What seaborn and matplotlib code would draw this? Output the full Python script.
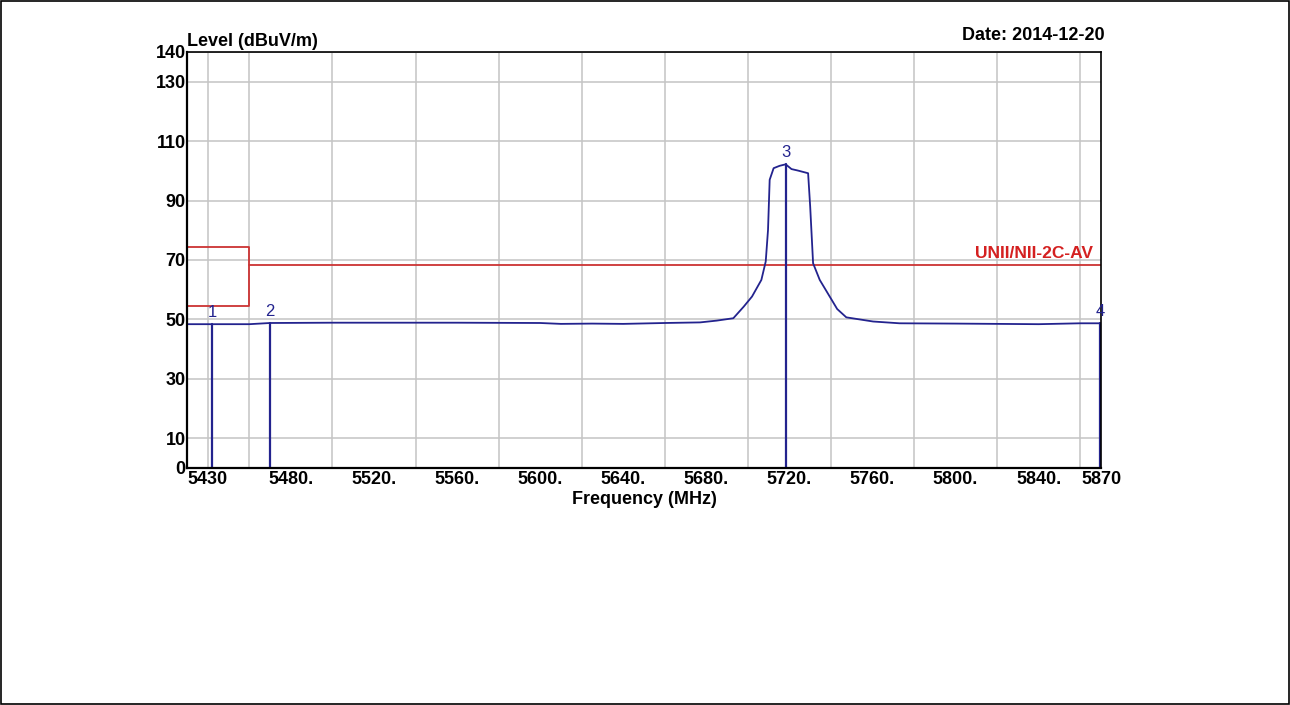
import matplotlib
matplotlib.use("Agg")
import matplotlib.pyplot as plt
import seaborn as sns
import pandas as pd
from matplotlib.patches import Rectangle

# ---- data ----
trace_freq = [5430, 5442, 5460, 5470, 5500, 5560, 5600, 5610, 5625, 5640, 5660, 5677,
              5685, 5693, 5698, 5702, 5706.5, 5708.6, 5709.7, 5710.5, 5712.4, 5715.3,
              5718.2, 5721, 5724.1, 5729, 5730, 5731.4, 5734.6, 5739.4, 5743, 5747.4,
              5760.3, 5773, 5800, 5840, 5860, 5869.5]
trace_level = [48.4, 48.4, 48.4, 48.8, 48.9, 48.9, 48.8, 48.5, 48.6, 48.5, 48.8, 49.0,
               49.6, 50.4, 54.3, 57.7, 63.3, 69.5, 80.1, 97.0, 100.9, 101.7,
               102.2, 100.6, 100.1, 99.2, 88.0, 68.9, 63.3, 57.7, 53.5, 50.7,
               49.3, 48.7, 48.6, 48.4, 48.7, 48.7]

limit_box_freq = [5430, 5460, 5460, 5430]
limit_box_level = [74.4, 74.4, 54.5, 54.5]
limit_line_freq = [5460, 5870]
limit_line_level = [68.3, 68.3]
limit_label = "UNII/NII-2C-AV"

marker_ids = ["1", "2", "3", "4"]
marker_freq = [5442, 5470, 5718.2, 5869.5]
marker_level = [48.4, 48.8, 102.2, 48.7]

xtick_vals = [5430, 5480, 5520, 5560, 5600, 5640, 5680, 5720, 5760, 5800, 5840, 5870]
xtick_labels = ["5430", "5480.", "5520.", "5560.", "5600.", "5640.", "5680.", "5720.",
                "5760.", "5800.", "5840.", "5870"]
ytick_vals = [0, 10, 30, 50, 70, 90, 110, 130, 140]

x_label = "Frequency (MHz)"
y_label = "Level (dBuV/m)"
date_text = "Date: 2014-12-20"

# ---- style ----
sns.set_theme(style="white")
plt.rcParams['font.family'] = ['Liberation Sans', 'DejaVu Sans']
plt.rcParams['text.color'] = 'black'
plt.rcParams['axes.labelcolor'] = 'black'
plt.rcParams['xtick.color'] = 'black'
plt.rcParams['ytick.color'] = 'black'

BLUE = "#23238e"
RED = "#cc3333"
GRID = "#c4c4c4"

fig = plt.figure(figsize=(12.9, 7.05), dpi=100)
ax = fig.add_axes([187 / 1290, 1 - 468 / 705, (1101 - 187) / 1290, (468 - 52) / 705])

# limit lines
sns.lineplot(x=limit_box_freq, y=limit_box_level, sort=False, estimator=None,
             color=RED, lw=1.3, ax=ax)
sns.lineplot(x=limit_line_freq, y=limit_line_level, sort=False, estimator=None,
             color=RED, lw=1.3, ax=ax)

# trace
df = pd.DataFrame({"f": trace_freq, "L": trace_level})
sns.lineplot(data=df, x="f", y="L", sort=False, estimator=None, color=BLUE, lw=1.3, ax=ax)

# markers
for mid, mf, ml in zip(marker_ids, marker_freq, marker_level):
    ax.plot([mf, mf], [0, ml], color=BLUE, lw=1.6)
    ax.text(mf, ml + 1.5, mid, color=BLUE, fontsize=12, ha="center", va="bottom")

ax.text(5866, limit_line_level[0] + 1.2, limit_label, color="#d42020", fontsize=12.5,
        fontweight="bold", ha="right", va="bottom")

ax.set_xlim(5430, 5870)
ax.set_ylim(0, 140)
ax.set_xticks(xtick_vals)
ax.set_xticklabels(xtick_labels, fontsize=13, fontweight="bold")
ax.set_xticks(list(range(5440, 5861, 20)), minor=True)
ax.set_yticks(ytick_vals)
ax.set_yticklabels([str(v) for v in ytick_vals], fontsize=13, fontweight="bold")
ax.get_xticklabels()[0].set_horizontalalignment("left")
ax.tick_params(axis="both", which="both", length=0, pad=2, colors="black")
ax.tick_params(axis="y", pad=1)

ax.grid(False)
ax.grid(which="minor", axis="x", color=GRID, lw=1.1)
ax.grid(which="major", axis="y", color=GRID, lw=1.1)
ax.set_axisbelow(True)

for side, sp in ax.spines.items():
    sp.set_visible(True)
    sp.set_color("black")
    sp.set_linewidth(1.6 if side in ("left", "bottom") else 1.2)

ax.set_xlabel(x_label, fontsize=13, fontweight="bold", labelpad=2, color="black")
ax.set_ylabel("")

fig.text(187 / 1290, 1 - 46 / 705, y_label, fontsize=13, fontweight="bold",
         ha="left", va="baseline", color="black")
fig.text(1105 / 1290, 1 - 40 / 705, date_text, fontsize=13, fontweight="bold",
         ha="right", va="baseline", color="black")

fig.patches.append(Rectangle((0.0008, 0.0014), 0.9984, 0.997, transform=fig.transFigure,
                             fill=False, edgecolor="black", lw=1.2))

fig.savefig("out.png", dpi=100)
